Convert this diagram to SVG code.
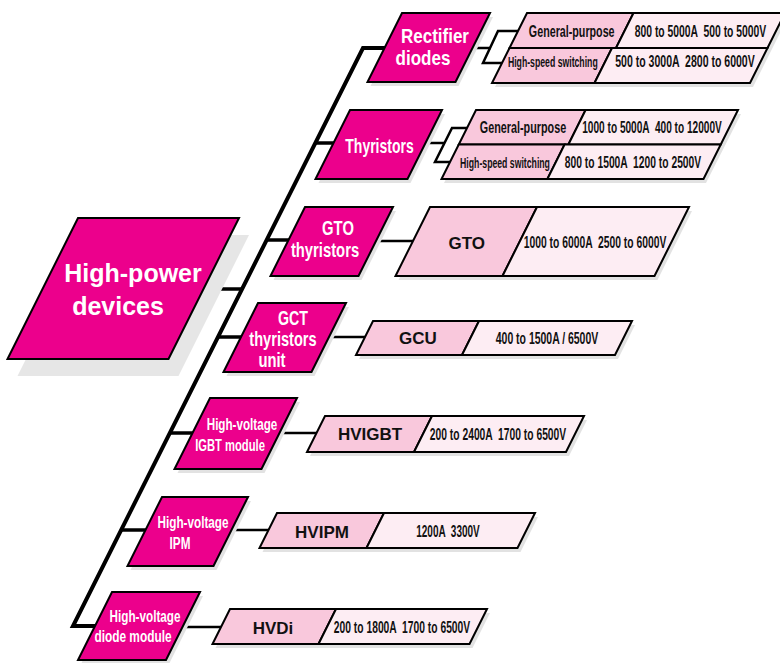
<svg xmlns="http://www.w3.org/2000/svg" width="780" height="663" viewBox="0 0 780 663">
<style>
  text { white-space: pre; }
  .node { fill: #ec008c; stroke: #000; stroke-width: 2; stroke-linejoin: miter; }
  .c1 { fill: #f9c8dc; stroke: #000; stroke-width: 2; }
  .c2 { fill: #fdedf3; stroke: #000; stroke-width: 2; }
  .shd { fill: #e2e2e2; stroke: none; }
  .bigshd { fill: #e6e6e6; stroke: none; }
  .wt { fill: #fff; font-family: "Liberation Sans", Arial, sans-serif; font-weight: bold; text-anchor: middle; }
  .bk { fill: #111; font-family: "Liberation Sans", Arial, sans-serif; font-weight: bold; text-anchor: middle; }
  .spine { fill: none; stroke: #000; stroke-width: 4; stroke-linejoin: miter; }
  .br { fill: none; stroke: #000; stroke-width: 3.5; }
  .lk { fill: none; stroke: #000; stroke-width: 2.5; stroke-linejoin: miter; }
</style>
<rect x="0" y="0" width="780" height="663" fill="#fff"/>

<g id="connectors">
  <polyline class="spine" points="390,48 363,48 73,626 100,626"/>
  <line class="br" x1="200" y1="289" x2="243" y2="289"/>
  <line class="br" x1="315" y1="143" x2="338" y2="143"/>
  <line class="br" x1="266" y1="240" x2="292" y2="240"/>
  <line class="br" x1="217" y1="337" x2="242" y2="337"/>
  <line class="br" x1="169" y1="433" x2="196" y2="433"/>
  <line class="br" x1="121" y1="530" x2="148" y2="530"/>
  <line class="lk" x1="470" y1="48" x2="491" y2="48"/>
  <polyline class="lk" points="520,31 498,31 483,63 505,63"/>
  <line class="lk" x1="420" y1="143" x2="445" y2="143"/>
  <polyline class="lk" points="475,128 452,128 435,162 459,162"/>
  <line class="lk" x1="370" y1="241" x2="415" y2="241"/>
  <line class="lk" x1="325" y1="337" x2="366" y2="337"/>
  <line class="lk" x1="275" y1="433" x2="318" y2="433"/>
  <line class="lk" x1="228" y1="530" x2="272" y2="530"/>
  <line class="lk" x1="180" y1="627" x2="225" y2="627"/>
</g>

<g id="high-power-devices">
  <polygon class="bigshd" points="88,235 249,235 178.5,376 17.5,376"/>
  <polygon class="node" points="78,218 239,218 168.5,359 7.5,359"/>
  <text class="wt" x="133" y="282" font-size="25">High-power</text>
  <text class="wt" x="118" y="315" font-size="25">devices</text>
</g>

<g id="rectifier-diodes">
  <polygon class="shd" points="405,17 493,17 458.5,86 370.5,86"/>
  <polygon class="node" points="402,13 490,13 455.5,82 367.5,82"/>
  <text class="wt" font-size="20" transform="translate(435,43.3) scale(0.85,1)">Rectifier</text>
  <text class="wt" font-size="20" transform="translate(423,65) scale(0.85,1)">diodes</text>
</g>

<g id="rectifier-sub">
  <polygon class="shd" points="530,17 788,17 753,87 495,87"/>
  <polygon class="c1" points="527,13 633.5,13 616,48 509.5,48"/>
  <polygon class="c2" points="633.5,13 785,13 767.5,48 616,48"/>
  <polygon class="c1" points="509.5,48 612,48 594.5,83 492,83"/>
  <polygon class="c2" points="612,48 767.5,48 750,83 594.5,83"/>
  <text class="bk" font-size="16" transform="translate(571.7,36.7) scale(0.67,1)">General-purpose</text>
  <text class="bk" font-size="16" transform="translate(700.5,36.7) scale(0.648,1)">800 to 5000A  500 to 5000V</text>
  <text class="bk" font-size="15" transform="translate(552.8,67.3) scale(0.58,1)">High-speed switching</text>
  <text class="bk" font-size="16" transform="translate(685,67.3) scale(0.659,1)">500 to 3000A  2800 to 6000V</text>
</g>

<g id="thyristors">
  <polygon class="shd" points="353,114 445,114 410.5,183 318.5,183"/>
  <polygon class="node" points="350,110 442,110 407.5,179 315.5,179"/>
  <text class="wt" font-size="20" transform="translate(379.5,152.7) scale(0.70,1)">Thyristors</text>
</g>

<g id="thyristors-sub">
  <polygon class="shd" points="479,114 741,114 706,183 444,183"/>
  <polygon class="c1" points="476,110 585.6,110 568.4,144.5 458.75,144.5"/>
  <polygon class="c2" points="585.6,110 738,110 720.75,144.5 568.4,144.5"/>
  <polygon class="c1" points="458.75,144.5 564.6,144.5 547.4,179 441.5,179"/>
  <polygon class="c2" points="564.6,144.5 720.75,144.5 703.5,179 547.4,179"/>
  <text class="bk" font-size="16" transform="translate(523,133) scale(0.675,1)">General-purpose</text>
  <text class="bk" font-size="16" transform="translate(652,133) scale(0.632,1)">1000 to 5000A  400 to 12000V</text>
  <text class="bk" font-size="15" transform="translate(505,167.5) scale(0.58,1)">High-speed switching</text>
  <text class="bk" font-size="16" transform="translate(633,167.5) scale(0.644,1)">800 to 1500A  1200 to 2500V</text>
</g>

<g id="gto-thyristors">
  <polygon class="shd" points="308,211 396,211 361.5,280 273.5,280"/>
  <polygon class="node" points="305,207 393,207 358.5,276 270.5,276"/>
  <text class="wt" font-size="20" transform="translate(338,235) scale(0.74,1)">GTO</text>
  <text class="wt" font-size="20" transform="translate(325,257) scale(0.74,1)">thyristors</text>
</g>

<g id="gto-sub">
  <polygon class="shd" points="433,211 692,211 657.5,280 398.5,280"/>
  <polygon class="c1" points="430,207 537,207 502.5,276 395.5,276"/>
  <polygon class="c2" points="537,207 689,207 654.5,276 502.5,276"/>
  <text class="bk" x="466.7" y="248.5" font-size="17">GTO</text>
  <text class="bk" font-size="16" transform="translate(595,248.3) scale(0.646,1)">1000 to 6000A  2500 to 6000V</text>
</g>

<g id="gct-thyristors-unit">
  <polygon class="shd" points="261,307 349,307 314.5,376 226.5,376"/>
  <polygon class="node" points="258,303 346,303 311.5,372 223.5,372"/>
  <text class="wt" font-size="20" transform="translate(293,325) scale(0.71,1)">GCT</text>
  <text class="wt" font-size="20" transform="translate(283,346) scale(0.73,1)">thyristors</text>
  <text class="wt" font-size="20" transform="translate(272,367) scale(0.74,1)">unit</text>
</g>

<g id="gcu-sub">
  <polygon class="shd" points="376,325 635,325 618,359 359,359"/>
  <polygon class="c1" points="373,321 479,321 462,355 356,355"/>
  <polygon class="c2" points="479,321 632,321 615,355 462,355"/>
  <text class="bk" x="418" y="344" font-size="17">GCU</text>
  <text class="bk" font-size="16" transform="translate(547,343.7) scale(0.654,1)">400 to 1500A / 6500V</text>
</g>

<g id="hv-igbt-module">
  <polygon class="shd" points="213,402 300,402 264.5,473 177.5,473"/>
  <polygon class="node" points="210,398 297,398 261.5,469 174.5,469"/>
  <text class="wt" font-size="17" transform="translate(242,430) scale(0.686,1)">High-voltage</text>
  <text class="wt" font-size="17" transform="translate(230,451) scale(0.66,1)">IGBT module</text>
</g>

<g id="hvigbt-sub">
  <polygon class="shd" points="328,420 587,420 569,456 310,456"/>
  <polygon class="c1" points="325,416 432,416 414,452 307,452"/>
  <polygon class="c2" points="432,416 584,416 566,452 414,452"/>
  <text class="bk" x="370" y="440" font-size="17">HVIGBT</text>
  <text class="bk" font-size="16" transform="translate(498,439.7) scale(0.644,1)">200 to 2400A  1700 to 6500V</text>
</g>

<g id="hv-ipm">
  <polygon class="shd" points="165,501 251,501 216.5,570 130.5,570"/>
  <polygon class="node" points="162,497 248,497 213.5,566 127.5,566"/>
  <text class="wt" font-size="17" transform="translate(193,528) scale(0.69,1)">High-voltage</text>
  <text class="wt" font-size="17" transform="translate(180,549) scale(0.69,1)">IPM</text>
</g>

<g id="hvipm-sub">
  <polygon class="shd" points="280,517 538,517 520.5,552 262.5,552"/>
  <polygon class="c1" points="277,513 384,513 366.5,548 259.5,548"/>
  <polygon class="c2" points="384,513 535,513 517.5,548 366.5,548"/>
  <text class="bk" x="322" y="538" font-size="17">HVIPM</text>
  <text class="bk" font-size="16" transform="translate(448,537) scale(0.626,1)">1200A  3300V</text>
</g>

<g id="hv-diode-module">
  <polygon class="shd" points="115,596 203,596 169,664 81,664"/>
  <polygon class="node" points="112,592 200,592 166,660 78,660"/>
  <text class="wt" font-size="17" transform="translate(145,622) scale(0.69,1)">High-voltage</text>
  <text class="wt" font-size="17" transform="translate(133,642) scale(0.70,1)">diode module</text>
</g>

<g id="hvdi-sub">
  <polygon class="shd" points="233,613 490,613 472.5,648 215.5,648"/>
  <polygon class="c1" points="230,609 336,609 318.5,644 212.5,644"/>
  <polygon class="c2" points="336,609 487,609 469.5,644 318.5,644"/>
  <text class="bk" x="273" y="634" font-size="17">HVDi</text>
  <text class="bk" font-size="16" transform="translate(402,633) scale(0.644,1)">200 to 1800A  1700 to 6500V</text>
</g>
</svg>
